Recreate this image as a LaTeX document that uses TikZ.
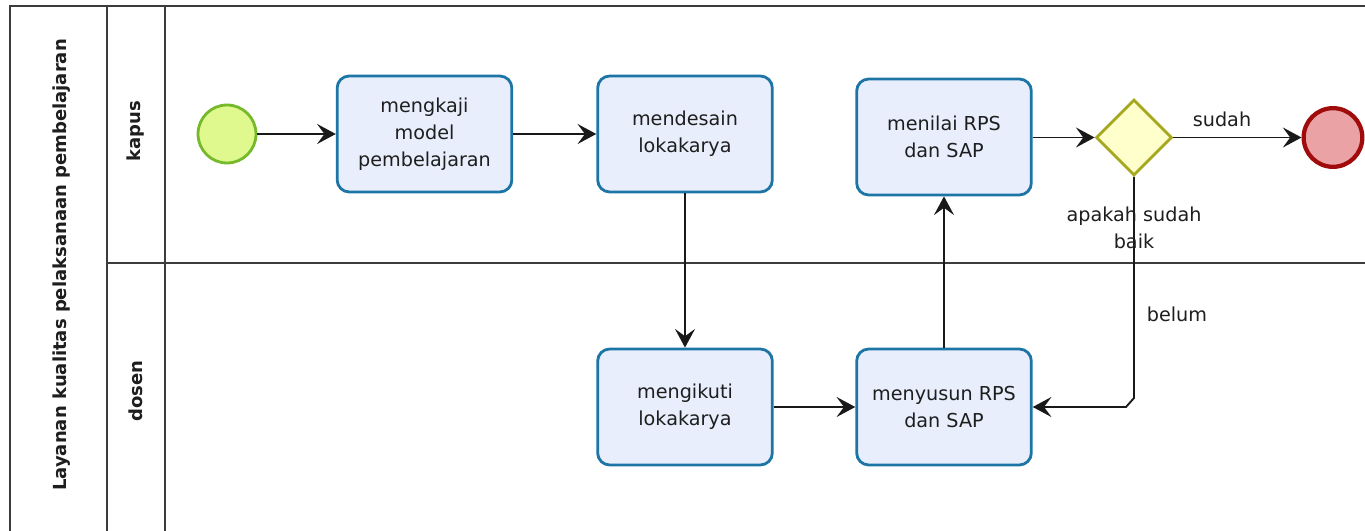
\documentclass[tikz,border=0pt]{standalone}
\usepackage{fontspec}
\setmainfont{DejaVu Sans}
\usetikzlibrary{arrows.meta,shapes.geometric,calc}
\definecolor{taskfill}{RGB}{232,238,252}
\definecolor{taskline}{RGB}{29,117,166}
\definecolor{startfill}{RGB}{223,249,142}
\definecolor{startline}{RGB}{118,185,42}
\definecolor{endfill}{RGB}{235,162,165}
\definecolor{endline}{RGB}{160,12,12}
\definecolor{gwfill}{RGB}{255,255,204}
\definecolor{gwline}{RGB}{168,168,32}
\definecolor{txt}{RGB}{30,30,30}
\definecolor{poolline}{RGB}{60,60,60}
\begin{document}
\begin{tikzpicture}[x=0.75pt,y=-0.75pt,
  every node/.style={text=txt, font=\fontsize{14.4}{20.3}\selectfont},
  pool/.style={draw=poolline, line width=1.2pt},
  task/.style={draw=taskline, fill=taskfill, line width=2.1pt, rounded corners=9pt,
    minimum width=131pt, minimum height=87pt, align=center, inner sep=2pt},
  startev/.style={circle, draw=startline, fill=startfill, line width=2.1pt, minimum size=43.5pt, inner sep=0pt},
  endev/.style={circle, draw=endline, fill=endfill, line width=3.2pt, minimum size=44pt, inner sep=0pt},
  gateway/.style={diamond, aspect=1, draw=gwline, fill=gwfill, line width=2.1pt, minimum size=57pt, inner sep=0pt},
  flow/.style={draw=black!90, line width=1.4pt, -{Stealth[length=14pt,width=15pt,inset=5.5pt]}},
  lbl/.style={align=center, inner sep=0pt},
  hdr/.style={rotate=90, font=\fontsize{13.5}{16}\selectfont\bfseries, inner sep=0pt}
]
\useasboundingbox (0,0) rectangle (1365,531);
\fill[white] (0,0) rectangle (1365,531);
\begin{scope}
\clip (0,0) rectangle (1365,531);
% pool and lanes
\draw[pool, line width=1.5pt] (10,545) -- (10,6) -- (1380,6);
\draw[pool] (107,6) -- (107,545);
\draw[pool] (165,6) -- (165,545);
\draw[pool] (107,263) -- (1380,263);
\end{scope}
\node[hdr] (pooltitle) at (62,265) {Layanan kualitas pelaksanaan pembelajaran};
\node[hdr] (lanekapus) at (136,131) {kapus};
\node[hdr] (lanedosen) at (136,391) {dosen};

% events and tasks
\node[startev] (start) at (227,134) {};
\node[task] (t1) at (424.5,134) {mengkaji\\model\\pembelajaran};
\node[task] (t2) at (685,134) {mendesain\\lokakarya};
\node[task] (t3) at (944,137) {menilai RPS\\dan SAP};
\node[task] (t4) at (685,407) {mengikuti\\lokakarya};
\node[task] (t5) at (944,407) {menyusun RPS\\dan SAP};
\node[gateway] (gw) at (1134,137.5) {};
\node[endev] (end) at (1333,137.5) {};

% flows
\draw[flow] (start) -- (t1);
\draw[flow] (t1) -- (t2);
\draw[flow] (t2) -- (t4);
\draw[flow] (t4) -- (t5);
\draw[flow] (t5) -- (t3);
\draw[flow] (t3.east |- gw.west) -- (gw.west);
\draw[flow] (gw) -- (end);
\coordinate (bend1) at ($(gw.south |- t5.east)+(0,-9)$);
\coordinate (bend2) at ($(gw.south |- t5.east)+(-8,0)$);
\draw[flow] (gw.south) -- (bend1) -- (bend2) -- (t5.east);

% labels
\node[lbl] (lsudah) at (1222,119) {sudah};
\node[lbl] (lbelum) at (1177,314) {belum};
\node[lbl] (lgw) at (1134,228) {apakah sudah\\baik};
\end{tikzpicture}
\end{document}
